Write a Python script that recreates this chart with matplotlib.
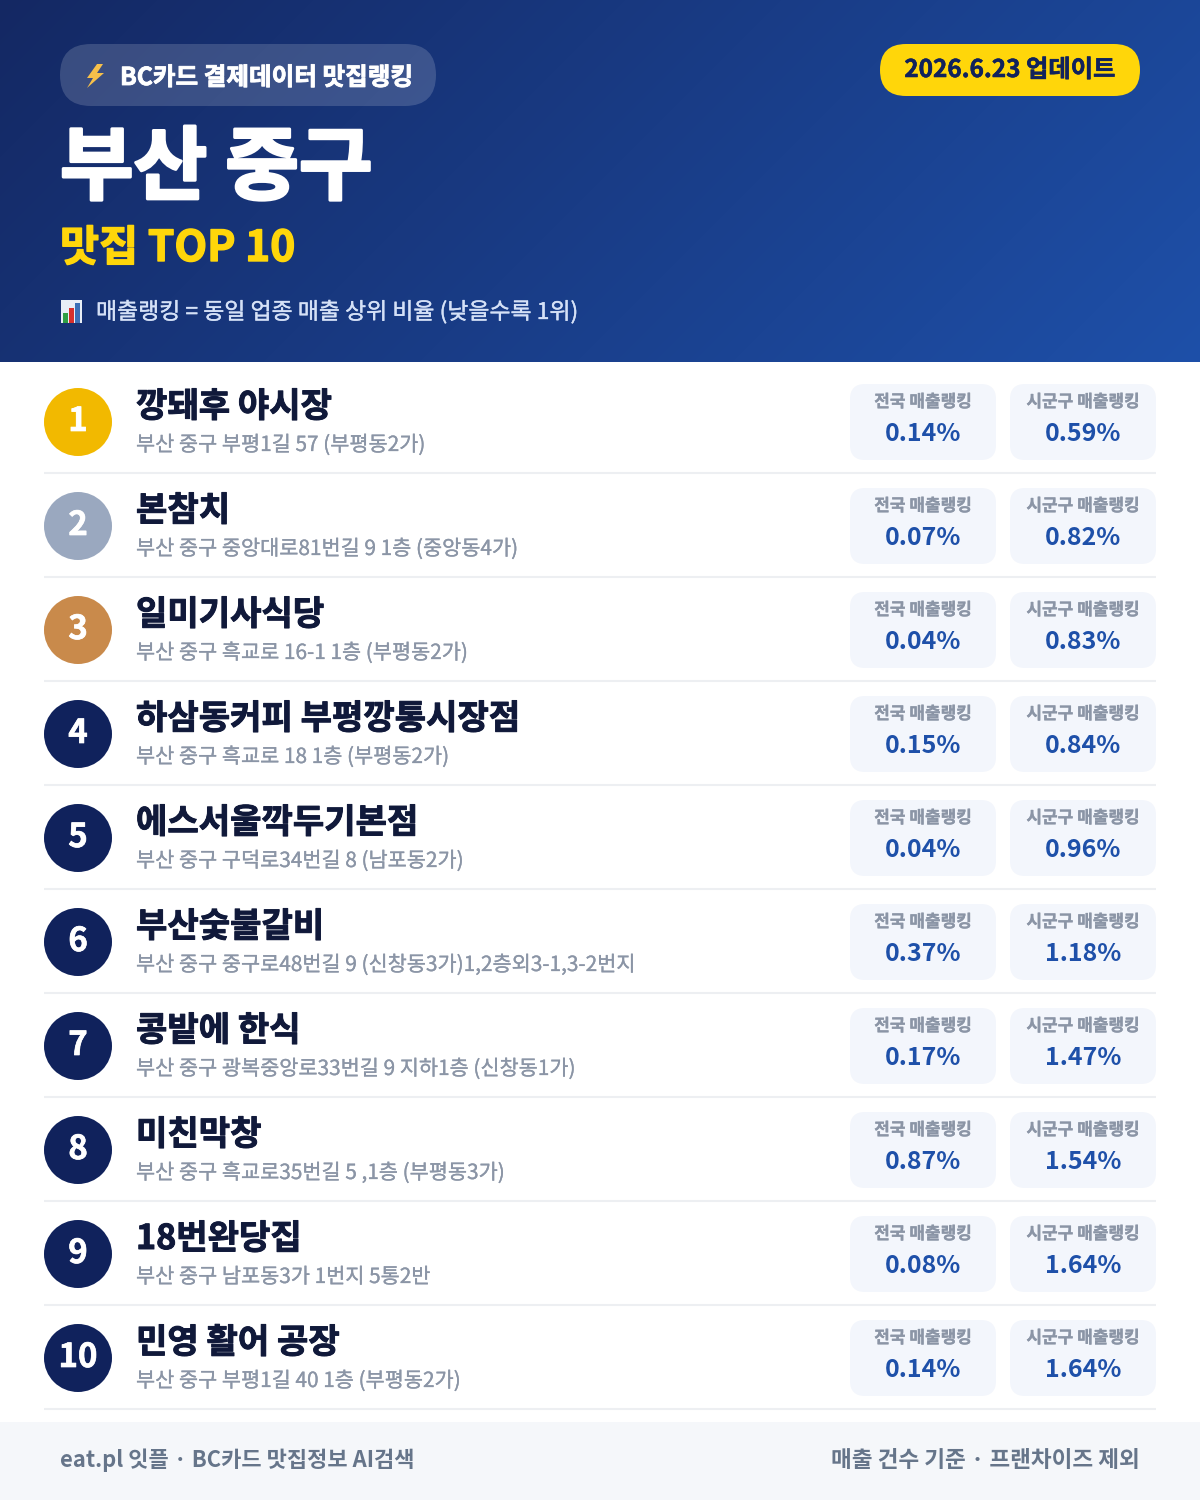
import numpy as np
import matplotlib
matplotlib.use('Agg')
import matplotlib.pyplot as plt
import matplotlib.patheffects as pe
from matplotlib.patches import Circle, FancyBboxPatch, Rectangle, Polygon

plt.rcParams['font.family'] = ['Noto Sans CJK KR', 'DejaVu Sans']

names = ['깡돼후 야시장', '본참치', '일미기사식당', '하삼동커피 부평깡통시장점', '에스서울깍두기본점',
         '부산숯불갈비', '콩밭에 한식', '미친막창', '18번완당집', '민영 활어 공장']
addresses = ['부산 중구 부평1길 57 (부평동2가)', '부산 중구 중앙대로81번길 9 1층 (중앙동4가)',
             '부산 중구 흑교로 16-1 1층 (부평동2가)', '부산 중구 흑교로 18 1층 (부평동2가)',
             '부산 중구 구덕로34번길 8 (남포동2가)', '부산 중구 중구로48번길 9 (신창동3가)1,2층외3-1,3-2번지',
             '부산 중구 광복중앙로33번길 9 지하1층 (신창동1가)', '부산 중구 흑교로35번길 5 ,1층 (부평동3가)',
             '부산 중구 남포동3가 1번지 5통2반', '부산 중구 부평1길 40 1층 (부평동2가)']
national = [0.14, 0.07, 0.04, 0.15, 0.04, 0.37, 0.17, 0.87, 0.08, 0.14]
district = [0.59, 0.82, 0.83, 0.84, 0.96, 1.18, 1.47, 1.54, 1.64, 1.64]
rank_colors = ['#f2b900', '#9aa8bf', '#c98a4b'] + ['#10225c'] * 7

fig = plt.figure(figsize=(12, 15), dpi=100, facecolor='white')
ax = fig.add_axes([0, 0, 1, 1])
ax.set_xlim(0, 1200)
ax.set_ylim(1500, 0)
ax.axis('off')


def T(x, y, s, px, color, weight='normal', ha='left', heavy=0, **kw):
    t = ax.text(x, y, s, fontsize=px * 0.72, color=color, fontweight=weight,
                ha=ha, va='baseline', **kw)
    if heavy:
        t.set_path_effects([pe.withStroke(linewidth=heavy, foreground=color)])
    return t


def pill(x0, y0, x1, y1, r, color, alpha=None):
    ax.add_patch(FancyBboxPatch((x0 + r, y0 + r), x1 - x0 - 2 * r, y1 - y0 - 2 * r,
                                boxstyle=f'round,pad={r},rounding_size={r}',
                                fc=color, ec='none', alpha=alpha, zorder=2))


# header gradient
H, W = 362, 1200
yy, xx = np.mgrid[0:H, 0:W]
g = (xx + yy) / (W + H)
c0, c1 = np.array([0x14, 0x28, 0x63]), np.array([0x1e, 0x50, 0xa9])
grad = (c0 + (c1 - c0) * g[..., None]) / 255
ax.imshow(grad, extent=(0, W, H, 0), aspect='auto', zorder=0)
ax.set_xlim(0, 1200)
ax.set_ylim(1500, 0)

pill(60, 44, 436, 106, 31, 'white', 0.16)
ax.add_patch(Polygon([(97, 64), (87, 78), (93, 78), (87, 88), (104, 73), (97, 73), (103, 64)],
                     closed=True, fc='#f7c04a', ec='none', zorder=3))
T(120, 85, 'BC카드 결제데이터 맛집랭킹', 24.6, 'white', 'bold', zorder=3, heavy=0.6)
pill(880, 44, 1140, 96, 26, '#ffd60a')
T(1010, 77, '2026.6.23 업데이트', 24.3, '#10225c', 'bold', ha='center', zorder=3, heavy=0.4)
T(60, 193, '부산 중구', 80, 'white', 'bold', zorder=3, heavy=2.2)
T(60, 261, '맛집 TOP 10', 42.5, '#ffd60a', 'bold', zorder=3, heavy=1.0)

# chart icon
ax.add_patch(Rectangle((61, 300), 21, 23, fc='#e8eef6', ec='none', zorder=3))
for bx, btop, col in [(63, 313, '#2f9e44'), (69, 308, '#d6302c'), (75, 303, '#3b6fb6')]:
    ax.add_patch(Rectangle((bx, btop), 5, 323 - btop, fc=col, ec='none', zorder=4))
T(96, 319, '매출랭킹 = 동일 업종 매출 상위 비율 (낮을수록 1위)', 22.9, '#d5e1f7', zorder=3, heavy=0.25)

# rows
for i, (name, addr, nat, dis, col) in enumerate(zip(names, addresses, national, district, rank_colors)):
    dy = 104 * i
    ax.add_patch(Circle((78, 422 + dy), 34, fc=col, ec='none', zorder=2))
    T(78, 431 + dy, str(i + 1), 33, 'white', 'bold', ha='center', zorder=3, heavy=0.5)
    T(136, 417 + dy, name, 34.1, '#10193a', 'bold', zorder=3, heavy=0.7)
    T(136, 451 + dy, addr, 20.8, '#8b95a6', zorder=3, heavy=0.2)
    for x0, x1, label, val in [(850, 996, '전국 매출랭킹', nat), (1010, 1156, '시군구 매출랭킹', dis)]:
        pill(x0, 384 + dy, x1, 460 + dy, 15, '#f3f6fc')
        cx = (x0 + x1) / 2
        T(cx, 407 + dy, label, 17, '#8b95a6', 'bold', ha='center', zorder=3, heavy=0.2)
        T(cx, 441 + dy, f'{val:.2f}%', 25, '#1e50a9', 'bold', ha='center', zorder=3)
    ax.plot([44, 1156], [473 + dy, 473 + dy], color='#edeff2', lw=1.5, zorder=1, solid_capstyle='butt')

# footer
ax.add_patch(Rectangle((0, 1422), 1200, 78, fc='#f5f7fa', ec='none', zorder=1))
T(60, 1467, 'eat.pl 잇플 · BC카드 맛집정보 AI검색', 22, '#66758a', 'bold', zorder=3)
T(1140, 1467, '매출 건수 기준 · 프랜차이즈 제외', 22.6, '#66758a', 'bold', ha='right', zorder=3)

fig.savefig('out.png', dpi=100, facecolor='white')
